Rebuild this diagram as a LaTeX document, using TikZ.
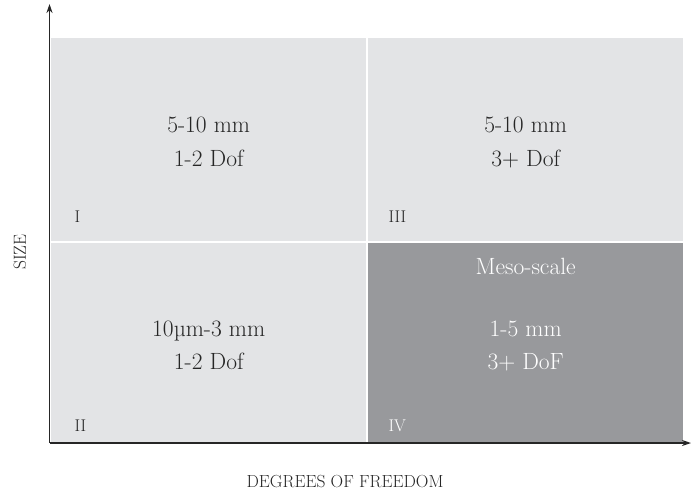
\documentclass[tikz,border=0pt]{standalone}
\usepackage{fontspec}
\usetikzlibrary{arrows.meta}

\definecolor{lightpanel}{HTML}{E3E4E6}
\definecolor{darkpanel}{HTML}{98999C}
\definecolor{inkgrey}{HTML}{262626}

\tikzset{
  panel/.style={fill=lightpanel, draw=none, anchor=north west,
    minimum width=315pt, inner sep=0pt},
  bigtext/.style={font=\fontsize{23.5}{28}\selectfont, text=inkgrey, anchor=base},
  numtext/.style={font=\fontsize{17}{20}\selectfont, text=inkgrey, anchor=base west},
  axislabel/.style={font=\fontsize{17.5}{21}\selectfont, text=inkgrey},
  axisline/.style={draw=inkgrey, line width=1.4pt,
    -{Stealth[length=9pt,width=6pt,inset=3pt]}},
}

\begin{document}
\begin{tikzpicture}[x=1pt,y=-1pt]

    % --- Frame ---
    \useasboundingbox (0,0) rectangle (691,493);

    % --- Define Coordinates ---
    % Origin of the axes
    \coordinate (O) at (49.5,443);
    % Top end of the size axis
    \coordinate (Ytop) at (49.5,4);
    % Right end of the freedom axis
    \coordinate (Xend) at (691,443);

    % --- Quadrants ---
    \node[panel, minimum height=203pt] (q1) at (51,38) {};
    \node[panel, minimum height=203pt] (q3) at (368,38) {};
    \node[panel, minimum height=199pt] (q2) at (51,243) {};
    \node[panel, minimum height=199pt, fill=darkpanel] (q4) at (368,243) {};

    % --- Axes ---
    \draw[axisline] (O) -- (Ytop);
    \draw[axisline] (O) -- (Xend);

    % --- Quadrant texts ---
    % Quadrant I
    \node[bigtext] (q1size) at (q1.center |- 0,132) {5-10 mm};
    \node[bigtext] (q1dof) at (q1.center |- 0,166) {1-2 Dof};
    % Quadrant III
    \node[bigtext] (q3size) at (q3.center |- 0,132) {5-10 mm};
    \node[bigtext] (q3dof) at (q3.center |- 0,166) {3+ Dof};
    % Quadrant II
    \node[bigtext] (q2size) at (q2.center |- 0,336) {10\textmu m-3 mm};
    \node[bigtext] (q2dof) at (q2.center |- 0,369) {1-2 Dof};
    % Quadrant IV
    \node[bigtext, text=white] (q4name) at (q4.center |- 0,274) {Meso-scale};
    \node[bigtext, text=white] (q4size) at (q4.center |- 0,336) {1-5 mm};
    \node[bigtext, text=white] (q4dof) at (q4.center |- 0,369) {3+ DoF};

    % --- Quadrant numbers ---
    \node[numtext] (n1) at (71,222) {I};
    \node[numtext] (n3) at (385,222) {III};
    \node[numtext] (n2) at (71,431) {II};
    \node[numtext, text=white] (n4) at (385,431) {IV};

    % --- Axis Labels ---
    \node[axislabel, rotate=90] (sizelabel) at (20,252) {SIZE};
    \node[axislabel] (doflabel) at (345,482) {DEGREES OF FREEDOM};

\end{tikzpicture}
\end{document}
